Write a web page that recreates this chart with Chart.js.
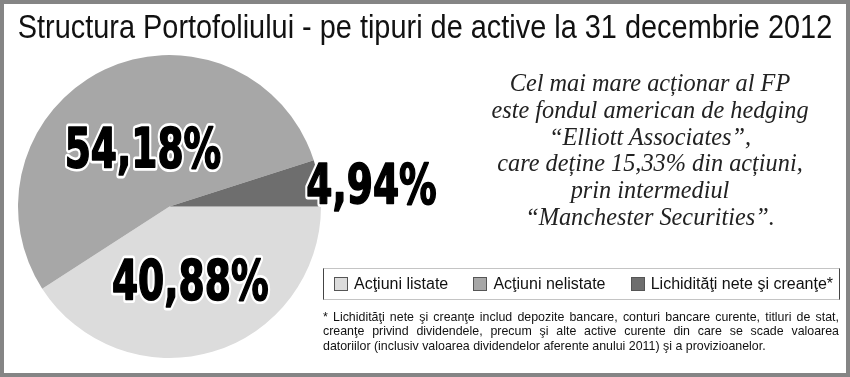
<!DOCTYPE html>
<html>
<head>
<meta charset="utf-8">
<script src="https://cdn.jsdelivr.net/npm/chart.js@4"></script>
<style>
  html, body { margin: 0; padding: 0; background: #fff; }
  #page { position: relative; width: 850px; height: 377px; overflow: hidden; background: #fff; font-family: 'Liberation Sans', Arial, sans-serif; }
  #frame { position: absolute; left: 0; top: 0; width: 850px; height: 377px; box-sizing: border-box; border: 4px solid #858585; pointer-events: none; }
  #pie { position: absolute; left: 0; top: 0; }
  #title { position: absolute; left: 425px; top: 6px; font-size: 34px; line-height: 40px; color: #111; white-space: nowrap; transform: translateX(-50%) scaleX(0.85); }
  #note { position: absolute; left: 450px; top: 70px; width: 400px; text-align: center; font-family: 'Liberation Serif', 'Times New Roman', serif; font-style: italic; font-size: 24.3px; line-height: 26.8px; color: #222; }
  #legend { position: absolute; left: 323px; top: 268px; width: 517px; height: 32px; box-sizing: border-box; border-left: 1px solid #444; border-right: 1px solid #444; border-top: 1px solid #c4c4c4; border-bottom: 1px solid #c4c4c4; display: flex; align-items: center; justify-content: space-between; padding: 0 6px 0 10px; font-size: 16px; color: #111; }
  .item { display: flex; align-items: center; white-space: nowrap; }
  .box { width: 12px; height: 12px; border: 1px solid #555; margin-right: 6px; }
  #foot { position: absolute; left: 323px; top: 310px; width: 516px; font-size: 12.4px; line-height: 14.4px; color: #111; }
  #foot div { text-align: justify; text-align-last: justify; white-space: nowrap; }
  #foot div.last { text-align-last: left; }
</style>
</head>
<body>
<div id="page">
  <canvas id="pie" width="850" height="377"></canvas>
  <div id="title">Structura Portofoliului - pe tipuri de active la 31 decembrie 2012</div>
  <div id="note">
    Cel mai mare acționar al FP<br>
    este fondul american de hedging<br>
    “Elliott Associates”,<br>
    care deține 15,33% din acțiuni,<br>
    prin intermediul<br>
    “Manchester Securities”.
  </div>
  <div id="legend"></div>
  <div id="foot">
    <div>* Lichidităţi nete şi creanţe includ depozite bancare, conturi bancare curente, titluri de stat,</div>
    <div>creanţe privind dividendele, precum şi alte active curente din care se scade valoarea</div>
    <div class="last">datoriilor (inclusiv valoarea dividendelor aferente anului 2011) şi a provizioanelor.</div>
  </div>
  <div id="frame"></div>
</div>
<script>
// Portfolio structure at 31.12.2012 (% of total assets)
const categories = ['Acţiuni listate', 'Acţiuni nelistate', 'Lichidităţi nete şi creanţe*'];
const shares = [40.88, 54.18, 4.94];
const sliceColors = ['#dcdcdc', '#a7a7a7', '#6e6e6e'];

// label placement per slice: distance from centre (share of radius), turn off the mid-angle (rad)
const labelDistance = [0.52, 0.41, 1.34];
const labelTurn = [0.02, 0, 0.058];

const bigLabels = {
    id: 'bigLabels',
    afterDatasetsDraw(chart) {
        const ctx = chart.ctx;
        const meta = chart.getDatasetMeta(0);
        ctx.save();
        ctx.font = 'bold 55px "DejaVu Sans Condensed", "DejaVu Sans", sans-serif';
        ctx.textAlign = 'center';
        ctx.textBaseline = 'middle';
        ctx.lineJoin = 'round';
        meta.data.forEach((arc, i) => {
            const p = arc.getProps(['x', 'y', 'startAngle', 'endAngle', 'outerRadius'], true);
            const mid = (p.startAngle + p.endAngle) / 2 + labelTurn[i];
            const d = p.outerRadius * labelDistance[i];
            const x = p.x + Math.cos(mid) * d;
            const y = p.y + Math.sin(mid) * d;
            const text = shares[i].toFixed(2).replace('.', ',') + '%';
            ctx.save();
            ctx.translate(x, y);
            ctx.scale(0.76, 1);
            // white halo, then heavy black face
            ctx.lineWidth = 7;
            ctx.strokeStyle = '#fff';
            ctx.strokeText(text, 0, 2);
            ctx.fillStyle = '#000';
            ctx.fillText(text, 0, 2);
            ctx.lineWidth = 1.6;
            ctx.strokeStyle = '#000';
            ctx.strokeText(text, 0, 2);
            ctx.restore();
        });
        ctx.restore();
    }
};

const chart = new Chart(document.getElementById('pie').getContext('2d'), {
    type: 'pie',
    data: {
        labels: categories,
        datasets: [{
            data: shares,
            backgroundColor: sliceColors,
            borderWidth: 0
        }]
    },
    options: {
        responsive: false,
        animation: false,
        rotation: 90, // first slice starts at 3 o'clock
        layout: {
            padding: { left: 17, top: 55, right: 528, bottom: 19 }
        },
        plugins: {
            legend: { display: false },
            tooltip: { enabled: false }
        }
    },
    plugins: [bigLabels]
});

// legend built from the chart's own labels and colours
const legendEl = document.getElementById('legend');
chart.data.labels.forEach((lab, i) => {
    const item = document.createElement('div');
    item.className = 'item';
    const box = document.createElement('span');
    box.className = 'box';
    box.style.background = chart.data.datasets[0].backgroundColor[i];
    item.appendChild(box);
    item.appendChild(document.createTextNode(lab));
    legendEl.appendChild(item);
});
</script>
</body>
</html>
